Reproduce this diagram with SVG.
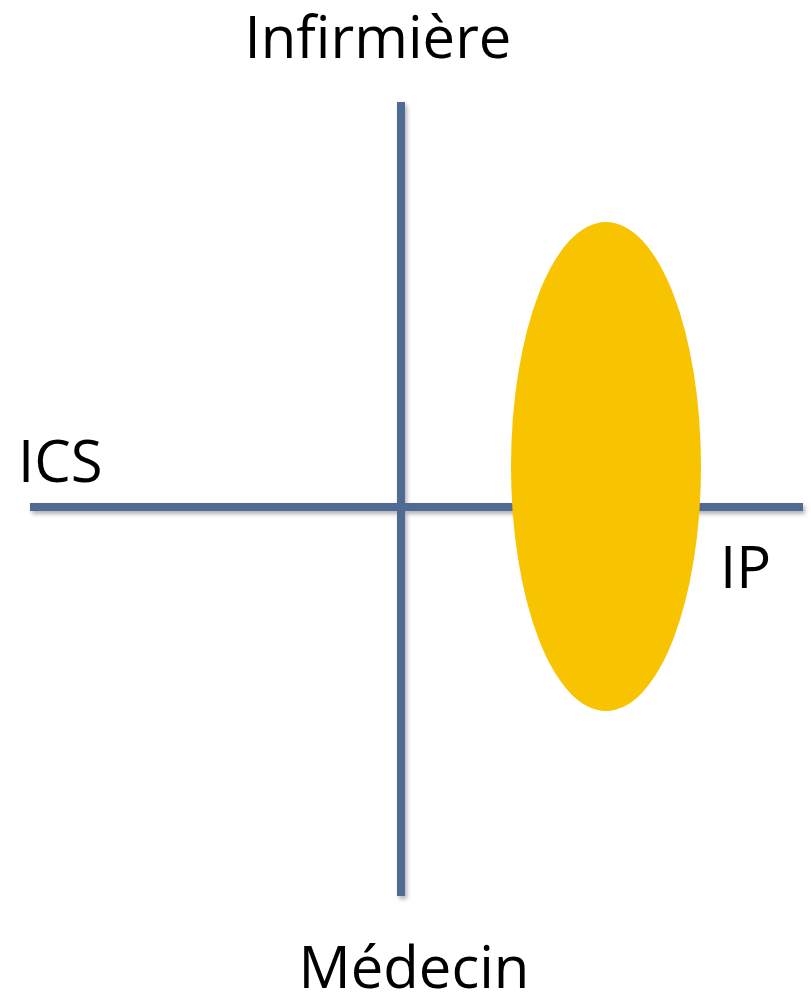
<svg xmlns="http://www.w3.org/2000/svg" width="811" height="996" viewBox="0 0 811 996">
<style>
.axis{stroke:#4F6A93;stroke-width:8;fill:none}
.lbl{font-family:"Open Sans","DejaVu Sans",sans-serif;font-size:58px;fill:#000}
</style>
<defs>
<filter id="sh" x="-5%" y="-5%" width="110%" height="110%">
<feDropShadow dx="2" dy="3" stdDeviation="2" flood-color="#000" flood-opacity="0.3"/>
</filter>
</defs>
<rect width="811" height="996" fill="#fff"/>
<g id="connectors" filter="url(#sh)">
<line class="axis" x1="401" y1="102" x2="401" y2="896"/>
<line class="axis" x1="30" y1="507" x2="803" y2="507"/>
</g>
<g id="ellipse">
<ellipse cx="606" cy="466.5" rx="95" ry="244.5" fill="#F8C300"/>
</g>
<g id="infirmiere"><text class="lbl" x="378" y="58" text-anchor="middle">Infirmière</text></g>
<g id="ics"><text class="lbl" x="18" y="482">ICS</text></g>
<g id="ip"><text class="lbl" x="720" y="588">IP</text></g>
<g id="medecin"><text class="lbl" x="414" y="988" text-anchor="middle">Médecin</text></g>
</svg>
